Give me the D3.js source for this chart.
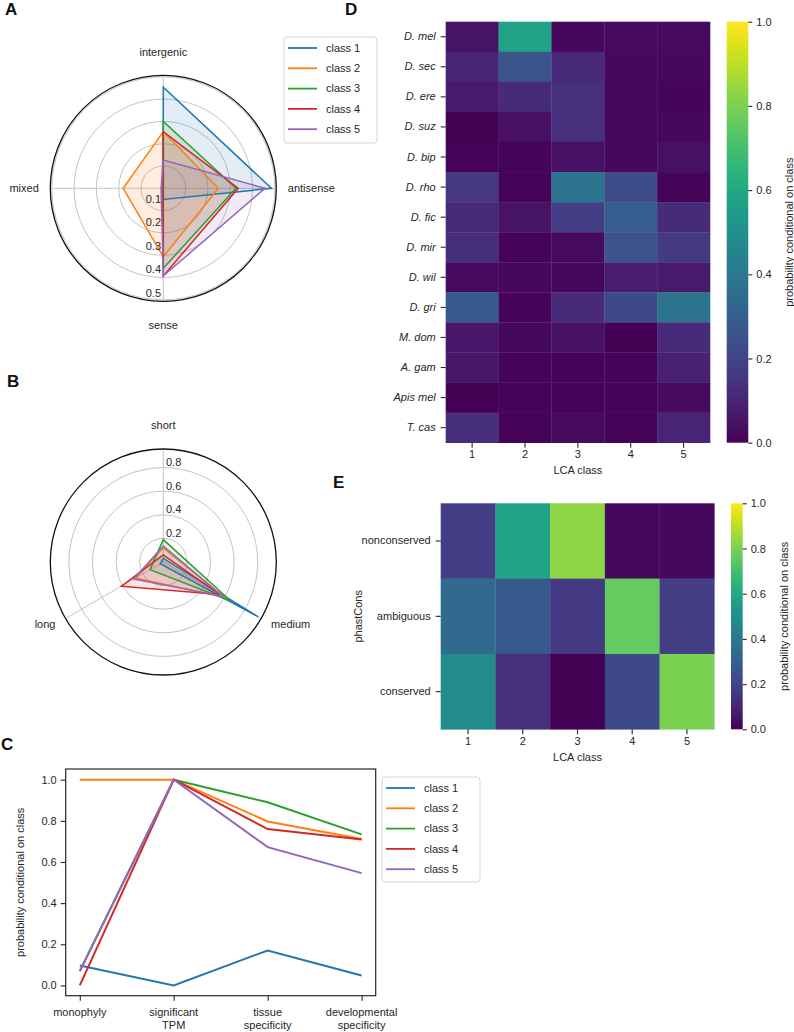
<!DOCTYPE html>
<html><head><meta charset="utf-8">
<script src="https://cdn.jsdelivr.net/npm/d3@7"></script>
<style>
body{margin:0;background:#fff}
svg{font-family:"Liberation Sans",Arial,Helvetica,sans-serif}
</style></head>
<body><svg id="c" width="794" height="1032"></svg>
<script>
// ---------- data ----------
const classNames = ["class 1", "class 2", "class 3", "class 4", "class 5"];
const classColors = ["#1f77b4", "#ff7f0e", "#2ca02c", "#d62728", "#9467bd"];

// Panel A: radar (angles start east, counter-clockwise)
const radarAAxes = ["antisense", "intergenic", "mixed", "sense"];
const radarAValues = [
  [0.485, 0.453, 0.0, 0.05],
  [0.247, 0.254, 0.18, 0.307],
  [0.326, 0.30, 0.005, 0.359],
  [0.336, 0.254, 0.0, 0.393],
  [0.456, 0.127, 0.01, 0.393]
];
const radarATicks = [0.1, 0.2, 0.3, 0.4, 0.5];

// Panel B: radar (angles start north, counter-clockwise)
const radarBAxes = ["short", "long", "medium"];
const radarBValues = [
  [0.03, 0.03, 0.93],
  [0.12, 0.27, 0.60],
  [0.19, 0.13, 0.66],
  [0.06, 0.41, 0.55],
  [0.135, 0.29, 0.58]
];
const radarBTicks = [0.2, 0.4, 0.6, 0.8];

// Panel C: line chart
const lineCategories = ["monophyly", "significant\nTPM", "tissue\nspecificity", "developmental\nspecificity"];
const lineValues = [
  [0.097, 0.0, 0.17, 0.048],
  [1.0, 1.0, 0.797, 0.712],
  [0.07, 1.0, 0.89, 0.734],
  [0.0, 1.0, 0.76, 0.709],
  [0.068, 1.0, 0.672, 0.546]
];
const lineTicks = [0, 0.2, 0.4, 0.6, 0.8, 1.0];

// Panel D: heatmap species x LCA class
const lcaClasses = ["1", "2", "3", "4", "5"];
const species = ["D. mel", "D. sec", "D. ere", "D. suz", "D. bip", "D. rho", "D. fic", "D. mir", "D. wil", "D. gri", "M. dom", "A. gam", "Apis mel", "T. cas"];
const speciesValues = [
  [0.05, 0.58, 0.02, 0.03, 0.03],
  [0.10, 0.26, 0.11, 0.02, 0.02],
  [0.07, 0.12, 0.14, 0.02, 0.015],
  [0.00, 0.04, 0.14, 0.02, 0.02],
  [0.01, 0.01, 0.04, 0.02, 0.04],
  [0.16, 0.01, 0.38, 0.23, 0.01],
  [0.11, 0.05, 0.18, 0.29, 0.12],
  [0.13, 0.01, 0.03, 0.25, 0.17],
  [0.03, 0.02, 0.02, 0.08, 0.07],
  [0.28, 0.01, 0.11, 0.22, 0.38],
  [0.06, 0.02, 0.04, 0.00, 0.12],
  [0.06, 0.01, 0.01, 0.01, 0.09],
  [0.00, 0.01, 0.01, 0.01, 0.03],
  [0.13, 0.01, 0.03, 0.01, 0.10]
];

// Panel E: heatmap phastCons x LCA class
const phastRows = ["nonconserved", "ambiguous", "conserved"];
const phastValues = [
  [0.18, 0.58, 0.83, 0.02, 0.02],
  [0.34, 0.28, 0.17, 0.76, 0.18],
  [0.48, 0.14, 0.00, 0.22, 0.80]
];
const colorbarTicks = [0, 0.2, 0.4, 0.6, 0.8, 1.0];

// ---------- drawing ----------
const svg = d3.select("#c");
const TXT = "#262626";
const FS = 11;

function panelLetter(t, x, y) {
  svg.append("text").attr("x", x).attr("y", y).text(t)
    .attr("font-size", 17).attr("font-weight", "bold").attr("fill", "#111");
}
panelLetter("A", 5, 15);
panelLetter("D", 345, 15);
panelLetter("B", 7, 387);
panelLetter("C", 1, 750);
panelLetter("E", 333, 488);

function legend(x, y, w, h, rowY0, rowStep) {
  const g = svg.append("g");
  g.append("rect").attr("x", x).attr("y", y).attr("width", w).attr("height", h)
    .attr("rx", 3).attr("fill", "#fff").attr("stroke", "#d6d6d6").attr("stroke-width", 1);
  classNames.forEach((n, i) => {
    const yy = rowY0 + i * rowStep;
    g.append("line").attr("x1", x + 4).attr("x2", x + 33).attr("y1", yy).attr("y2", yy)
      .attr("stroke", classColors[i]).attr("stroke-width", 1.8);
    g.append("text").attr("x", x + 42).attr("y", yy).attr("dy", "0.35em")
      .attr("font-size", FS).attr("fill", TXT).text(n);
  });
}

function radar(opts) {
  const {cx, cy, axes, values, ticks, rMaxVal, rMaxPx, startDeg, tickLabel} = opts;
  const r = d3.scaleLinear().domain([0, rMaxVal]).range([0, rMaxPx]);
  const g = svg.append("g");
  const ang = i => (startDeg + i * 360 / axes.length) * Math.PI / 180;
  // grid rings
  ticks.forEach(t => {
    g.append("circle").attr("cx", cx).attr("cy", cy).attr("r", r(t))
      .attr("fill", "none").attr("stroke", "#c4c4c4").attr("stroke-width", 1);
  });
  // spokes
  axes.forEach((a, i) => {
    g.append("line").attr("x1", cx).attr("y1", cy)
      .attr("x2", cx + r(rMaxVal) * Math.cos(ang(i)))
      .attr("y2", cy - r(rMaxVal) * Math.sin(ang(i)))
      .attr("stroke", "#c4c4c4").attr("stroke-width", 1);
  });
  // polygons
  const line = d3.lineRadial().angle((d, i) => Math.PI / 2 - ang(i)).radius(d => r(d)).curve(d3.curveLinearClosed);
  values.forEach((vals, k) => {
    g.append("path").attr("transform", `translate(${cx},${cy})`).attr("d", line(vals))
      .attr("fill", classColors[k]).attr("fill-opacity", 0.13).attr("stroke", "none");
  });
  values.forEach((vals, k) => {
    g.append("path").attr("transform", `translate(${cx},${cy})`).attr("d", line(vals))
      .attr("fill", "none").attr("stroke", classColors[k]).attr("stroke-width", 1.5);
  });
  // outer spine
  g.append("circle").attr("cx", cx).attr("cy", cy).attr("r", r(rMaxVal) + 1.5)
    .attr("fill", "none").attr("stroke", "#111").attr("stroke-width", 1.3);
  // radial tick labels
  ticks.forEach(t => {
    const p = tickLabel(r(t));
    g.append("text").attr("x", p.x).attr("y", p.y).attr("dy", "0.35em")
      .attr("text-anchor", p.anchor).attr("font-size", FS).attr("fill", TXT).text(t.toFixed(1));
  });
  // axis labels
  axes.forEach((a, i) => {
    const c = Math.cos(ang(i)), s = Math.sin(ang(i));
    const horiz = Math.abs(c) > 0.1;
    const R = r(rMaxVal) + (horiz ? 13 : 25);
    g.append("text").attr("x", cx + R * c).attr("y", cy - R * s).attr("dy", "0.35em")
      .attr("text-anchor", horiz ? (c > 0 ? "start" : "end") : "middle")
      .attr("font-size", FS).attr("fill", TXT).text(a);
  });
}

// Panel A
radar({cx: 163.3, cy: 188.3, axes: radarAAxes, values: radarAValues, ticks: radarATicks,
  rMaxVal: 0.5, rMaxPx: 111.5, startDeg: 0,
  tickLabel: rp => ({x: 161, y: 188.3 - 12.7 + 1.05 * rp, anchor: "end"})});
legend(284, 37, 93, 106, 48, 20.3);

// Panel B
radar({cx: 163.3, cy: 562, axes: radarBAxes, values: radarBValues, ticks: radarBTicks,
  rMaxVal: 0.945, rMaxPx: 111.5, startDeg: 90,
  tickLabel: rp => ({x: 166, y: 562 - rp - 5.5, anchor: "start"})});

// Panel C
(function () {
  const L = 65.7, R = 375.7, T = 769, B = 995.7;
  const x = d3.scaleLinear().domain([-0.15, 3.15]).range([L, R]);
  const y = d3.scaleLinear().domain([-0.05, 1.052]).range([B, T]);
  const g = svg.append("g");
  const yAx = g.append("g").attr("transform", `translate(${L},0)`)
    .call(d3.axisLeft(y).tickValues(lineTicks).tickFormat(d3.format(".1f")).tickSize(5).tickPadding(4));
  const xAx = g.append("g").attr("transform", `translate(0,${B})`)
    .call(d3.axisBottom(x).tickValues(d3.range(lineCategories.length)).tickFormat("").tickSize(5));
  [yAx, xAx].forEach(a => {
    a.select(".domain").remove();
    a.selectAll("line").attr("stroke", TXT).attr("stroke-width", 1.1);
    a.selectAll("text").attr("font-size", FS).attr("fill", TXT).attr("font-family", null);
  });
  lineCategories.forEach((c, i) => {
    const t = g.append("text").attr("x", x(i)).attr("y", B + 20).attr("text-anchor", "middle")
      .attr("font-size", FS).attr("fill", TXT);
    c.split("\n").forEach((part, j) => {
      t.append("tspan").attr("x", x(i)).attr("dy", j === 0 ? 0 : 13).text(part);
    });
  });
  g.append("text").attr("transform", `translate(20,${(T + B) / 2}) rotate(-90)`)
    .attr("text-anchor", "middle").attr("dy", "0.35em").attr("font-size", FS).attr("fill", TXT)
    .text("probability conditional on class");
  const ln = d3.line().x((d, i) => x(i)).y(d => y(d));
  lineValues.forEach((vals, k) => {
    g.append("path").attr("d", ln(vals)).attr("fill", "none")
      .attr("stroke", classColors[k]).attr("stroke-width", 2);
  });
  g.append("rect").attr("x", L).attr("y", T).attr("width", R - L).attr("height", B - T)
    .attr("fill", "none").attr("stroke", TXT).attr("stroke-width", 1.2);
  legend(382, 777, 98, 105, 788, 20.3);
})();

// Heatmaps
let gradId = 0;
function heatmap(opts) {
  const {L, R, T, B, rows, cols, values, italic, cbL, cbR, yLabel, xLabelY} = opts;
  const g = svg.append("g");
  const x = d3.scaleBand().domain(cols).range([L, R]);
  const y = d3.scaleBand().domain(rows).range([T, B]);
  const color = d3.scaleSequential(d3.interpolateViridis).domain([0, 1]);
  rows.forEach((rw, i) => cols.forEach((cl, j) => {
    g.append("rect").attr("x", x(cl)).attr("y", y(rw)).attr("width", x.bandwidth() + 0.3)
      .attr("height", y.bandwidth() + 0.3).attr("fill", color(values[i][j]));
  }));
  const yAx = g.append("g").attr("transform", `translate(${L},0)`)
    .call(d3.axisLeft(y).tickSize(5).tickPadding(5));
  const xAx = g.append("g").attr("transform", `translate(0,${B})`)
    .call(d3.axisBottom(x).tickSize(5).tickPadding(3));
  [yAx, xAx].forEach(a => {
    a.select(".domain").remove();
    a.selectAll("line").attr("stroke", TXT).attr("stroke-width", 1.1);
    a.selectAll("text").attr("font-size", FS).attr("fill", TXT).attr("font-family", null);
  });
  if (italic) yAx.selectAll("text").attr("font-style", "italic");
  g.append("text").attr("x", (L + R) / 2).attr("y", xLabelY).attr("dy", "0.35em")
    .attr("text-anchor", "middle").attr("font-size", FS).attr("fill", TXT).text("LCA class");
  if (yLabel) {
    g.append("text").attr("transform", `translate(${yLabel.x},${(T + B) / 2}) rotate(-90)`)
      .attr("text-anchor", "middle").attr("dy", "0.35em").attr("font-size", FS).attr("fill", TXT)
      .text(yLabel.text);
  }
  // colorbar
  const id = "vg" + (gradId++);
  const grad = svg.append("defs").append("linearGradient").attr("id", id)
    .attr("x1", 0).attr("y1", 1).attr("x2", 0).attr("y2", 0);
  d3.range(0, 1.0001, 0.05).forEach(t => {
    grad.append("stop").attr("offset", t).attr("stop-color", d3.interpolateViridis(t));
  });
  g.append("rect").attr("x", cbL).attr("y", T).attr("width", cbR - cbL).attr("height", B - T)
    .attr("fill", `url(#${id})`);
  const cy = d3.scaleLinear().domain([0, 1]).range([B, T]);
  const cAx = g.append("g").attr("transform", `translate(${cbR},0)`)
    .call(d3.axisRight(cy).tickValues(colorbarTicks).tickFormat(d3.format(".1f")).tickSize(4).tickPadding(4));
  cAx.select(".domain").remove();
  cAx.selectAll("line").attr("stroke", TXT).attr("stroke-width", 1.1);
  cAx.selectAll("text").attr("font-size", FS).attr("fill", TXT).attr("font-family", null);
  g.append("text").attr("transform", `translate(${cbR + 41},${(T + B) / 2}) rotate(-90)`)
    .attr("text-anchor", "middle").attr("dy", "0.35em").attr("font-size", FS).attr("fill", TXT)
    .text("probability conditional on class");
}

heatmap({L: 445.7, R: 710, T: 21.7, B: 442.7, rows: species, cols: lcaClasses, values: speciesValues,
  italic: true, cbL: 726.7, cbR: 748.3, xLabelY: 470});
heatmap({L: 440.7, R: 714.3, T: 503.3, B: 729.3, rows: phastRows, cols: lcaClasses, values: phastValues,
  italic: false, cbL: 731, cbR: 742.7, xLabelY: 757, yLabel: {x: 358.3, text: "phastCons"}});
</script></body></html>
